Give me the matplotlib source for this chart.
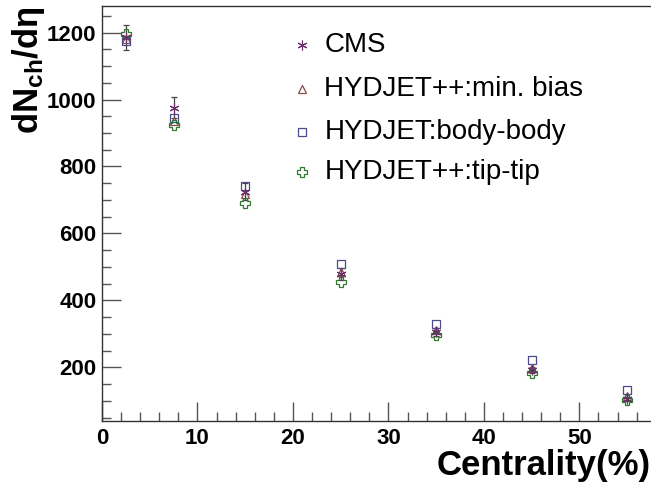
import numpy as np
import matplotlib
matplotlib.use("Agg")
import matplotlib.pyplot as plt
from matplotlib.ticker import MultipleLocator

plt.rcParams['font.family'] = ['Liberation Sans', 'DejaVu Sans']
plt.rcParams['mathtext.fontset'] = 'custom'
plt.rcParams['mathtext.rm'] = 'Liberation Sans'
plt.rcParams['mathtext.bf'] = 'Liberation Sans:bold'
plt.rcParams['mathtext.it'] = 'Liberation Sans:italic'

# centrality bins (%)
cent = [2.5, 7.5, 15, 25, 35, 45, 55]

cms = [1186, 976, 725, 480, 306, 192, 107]
cms_err = [37, 32, 25, 18, 12, 9, 6]
minbias = [1180, 935, 719, 485, 313, 197, 115]
bodybody = [1176, 945, 741, 510, 331, 222, 134]
tiptip = [1196, 925, 690, 456, 298, 184, 102]

labels = ["CMS", "HYDJET++:min. bias", "HYDJET:body-body", "HYDJET++:tip-tip"]

fig = plt.figure(figsize=(6.51, 4.86), dpi=100)
ax = fig.add_axes([0.1567, 0.1337, 0.8433, 0.8545])

ax.errorbar(cent, cms, yerr=cms_err, fmt='none', ecolor='#444444', elinewidth=0.9,
            capsize=2.5, capthick=0.9)
ax.plot(cent, minbias, linestyle='none', marker='^', ms=6, mfc='none', mec='#8b4a4a', mew=0.9)
ax.plot(cent, bodybody, linestyle='none', marker='s', ms=6, mfc='none', mec='#4a4a8c', mew=0.9)
ax.plot(cent, tiptip, linestyle='none', marker='P', ms=7, mfc='none', mec='#2f7a2f', mew=0.9)
ax.plot(cent, cms, linestyle='none', marker=(6, 2, 0), ms=7, mec='#6a2f6a', mew=0.8)

# legend drawn by hand like ROOT TLegend
leg_y = [0.905, 0.80, 0.695, 0.60]
leg_style = [dict(marker=(6, 2, 0), ms=7, mec='#6a2f6a', mew=0.8),
             dict(marker='^', ms=6, mfc='none', mec='#8b4a4a', mew=0.9),
             dict(marker='s', ms=6, mfc='none', mec='#4a4a8c', mew=0.9),
             dict(marker='P', ms=7, mfc='none', mec='#2f7a2f', mew=0.9)]
for yy, lab, st in zip(leg_y, labels, leg_style):
    ax.plot([0.365], [yy], transform=ax.transAxes, linestyle='none', **st)
    ax.text(0.405, yy, lab, transform=ax.transAxes, fontsize=20,
            va='center', ha='left')

ax.set_xlim(0, 57.5)
ax.set_ylim(40, 1280)
ax.xaxis.set_major_locator(MultipleLocator(10))
ax.xaxis.set_minor_locator(MultipleLocator(2))
ax.yaxis.set_major_locator(MultipleLocator(200))
ax.yaxis.set_minor_locator(MultipleLocator(50))

ax.tick_params(which='both', direction='in', top=False, right=False, colors='#555555',
               labelcolor='black', labelsize=16)
ax.tick_params(which='major', length=14, width=1.0)
ax.tick_params(which='minor', length=6.5, width=1.0)
ax.tick_params(axis='x', which='major', pad=5)
ax.tick_params(axis='y', which='major', pad=4)
for lab in ax.get_xticklabels() + ax.get_yticklabels():
    lab.set_fontweight('bold')

for s in ['left', 'bottom', 'top']:
    ax.spines[s].set_color('#333333')
    ax.spines[s].set_linewidth(1.0)
ax.spines['right'].set_visible(False)

ax.set_xlabel("Centrality(%)", fontsize=25, fontweight='bold', loc='right', labelpad=0)
ax.set_ylabel(r"$\mathbf{dN_{ch}/d\eta}$", fontsize=25, loc='top', labelpad=0)

fig.savefig("out.png", dpi=100)
